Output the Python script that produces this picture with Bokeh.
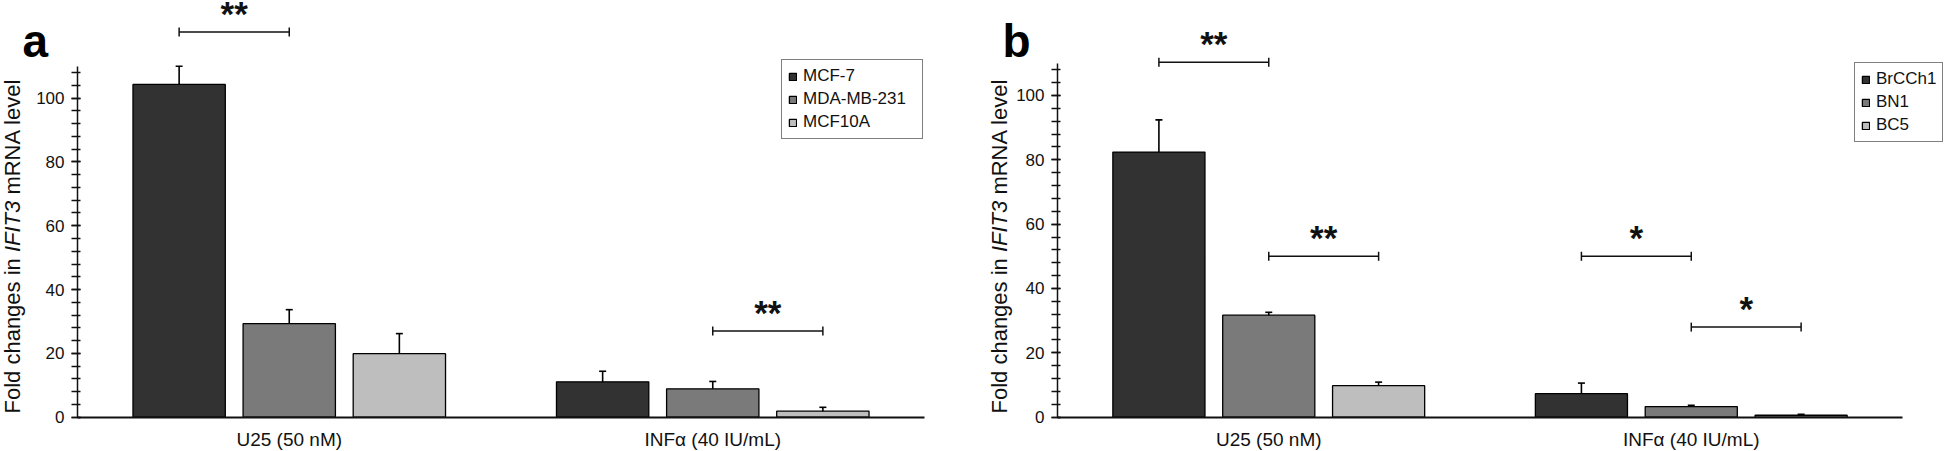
import math
from bokeh.plotting import figure
from bokeh.models import (ColumnDataSource, Whisker, TeeHead, Label, Legend, LegendItem,
                          SingleIntervalTicker, FixedTicker, Range1d)
from bokeh.layouts import row
from bokeh.embed import file_html
from bokeh.resources import INLINE
from bokeh.core.properties import value

# ---------------- data ----------------
categories = ["U25 (50 nM)", "INFα (40 IU/mL)"]

a_series = ["MCF-7", "MDA-MB-231", "MCF10A"]
a_mcf7 = [104.3, 11.1]
a_mcf7_err = [5.7, 3.3]
a_mda = [29.3, 8.9]
a_mda_err = [4.4, 2.3]
a_mcf10a = [19.9, 1.9]
a_mcf10a_err = [6.3, 1.2]

b_series = ["BrCCh1", "BN1", "BC5"]
b_brcch1 = [82.4, 7.3]
b_brcch1_err = [10.0, 3.3]
b_bn1 = [31.7, 3.3]
b_bn1_err = [0.9, 0.4]
b_bc5 = [9.8, 0.6]
b_bc5_err = [1.1, 0.3]

# significance brackets: (category index, bar i, bar j, height, label)
a_sig = [(0, 0, 1, 120.7, "**"), (1, 1, 2, 27.0, "**")]
b_sig = [(0, 0, 1, 110.3, "**"), (0, 1, 2, 50.0, "**"),
         (1, 0, 1, 50.0, "*"), (1, 1, 2, 28.0, "*")]

# ---------------- style ----------------
colors = ["#323232", "#7a7a7a", "#bebebe"]
offsets = [-0.26, 0.0, 0.26]
bar_w = 0.218
FONT = "Liberation Sans"
H = 451
INK = "#111111"


def gx(ci, k):
    """synthetic x of bar k in category ci"""
    return ci + 0.5 + offsets[k]


def make_panel(series, vals, errs, sigs, letter, width, x_range, y_range, leg_xy, leg_lw,
               title_x, letter_x):
    p = figure(x_range=Range1d(*x_range), y_range=Range1d(*y_range), width=width, height=H,
               min_border_left=0, min_border_right=0, min_border_top=0,
               min_border_bottom=0, output_backend="svg", toolbar_location=None)
    p.outline_line_color = None
    p.xgrid.grid_line_color = None
    p.ygrid.grid_line_color = None
    p.background_fill_color = "white"
    p.border_fill_color = "white"

    ncat = len(categories)
    items = []
    for k, name in enumerate(series):
        src = ColumnDataSource(dict(x=[gx(c, k) for c in range(ncat)], val=vals[k],
                                    upper=[v + e for v, e in zip(vals[k], errs[k])],
                                    lower=[v - e for v, e in zip(vals[k], errs[k])]))
        r = p.vbar(x="x", top="val", width=bar_w, source=src, fill_color=colors[k],
                   line_color="black", line_width=1.3)
        items.append(LegendItem(label=name, renderers=[r]))
        p.add_layout(Whisker(source=src, base="x", upper="upper", lower="lower",
                             line_width=1.6, line_color="black",
                             upper_head=TeeHead(size=7, line_width=1.6, line_color="black"),
                             lower_head=TeeHead(size=7, line_width=1.6, line_color="black")))

    for ci, i, j, h, lab in sigs:
        s = ColumnDataSource(dict(x0=[gx(ci, i)], x1=[gx(ci, j)],
                                  xm=[(gx(ci, i) + gx(ci, j)) / 2], y=[h], lab=[lab]))
        p.add_layout(Whisker(source=s, dimension="width", base="y", lower="x0", upper="x1",
                             line_width=1.5, line_color=INK,
                             upper_head=TeeHead(size=9, line_width=1.5, line_color=INK),
                             lower_head=TeeHead(size=9, line_width=1.5, line_color=INK)))
        p.text(x="xm", y="y", text="lab", source=s, text_align="center",
               text_baseline="alphabetic", y_offset=-19, text_font=value(FONT),
               text_font_size="35px", text_font_style="bold", text_color=INK)

    leg = Legend(items=items, location=leg_xy, glyph_width=9, glyph_height=9,
                 label_text_font=FONT, label_text_font_size="17px",
                 label_text_color=INK, spacing=3, padding=6, label_standoff=6,
                 label_height=18, label_width=leg_lw, margin=0, border_line_color="black",
                 border_line_width=1.3, background_fill_alpha=1.0)
    p.add_layout(leg)

    # y axis, drawn at x = 0 inside the frame
    ya = p.yaxis[0]
    ya.fixed_location = 0
    ya.ticker = SingleIntervalTicker(interval=20, num_minor_ticks=5)
    ya.bounds = (0, 110)
    ya.axis_line_width = 1.5
    ya.axis_line_color = INK
    ya.major_tick_in = 3
    ya.major_tick_out = 6
    ya.minor_tick_in = 3
    ya.minor_tick_out = 6
    ya.major_tick_line_width = 1.3
    ya.minor_tick_line_width = 1.3
    ya.major_tick_line_color = INK
    ya.minor_tick_line_color = INK
    ya.major_label_standoff = 7
    ya.major_label_text_font = FONT
    ya.major_label_text_font_size = "17px"
    ya.major_label_text_color = INK

    # x axis, drawn at y = 0 inside the frame
    xa = p.xaxis[0]
    xa.fixed_location = 0
    xa.ticker = FixedTicker(ticks=[c + 0.5 for c in range(ncat)])
    xa.major_label_overrides = {c + 0.5: categories[c] for c in range(ncat)}
    xa.bounds = (0, ncat)
    xa.axis_line_width = 1.8
    xa.axis_line_color = INK
    xa.major_tick_line_color = None
    xa.minor_tick_line_color = None
    xa.major_tick_out = 0
    xa.major_tick_in = 0
    xa.major_label_standoff = 12
    xa.major_label_text_font = FONT
    xa.major_label_text_font_size = "19px"
    xa.major_label_text_color = INK

    # y-axis title with italic gene name (three rotated pieces)
    fs = 22
    em = {"Fold changes in ": 7.337, "IFIT3": 2.334, " ": 0.278}
    pieces = [("Fold changes in", "normal", 0.0),
              ("IFIT3", "italic", em["Fold changes in "] * fs),
              ("mRNA level", "normal", (em["Fold changes in "] + em["IFIT3"] + em[" "]) * fs)]
    for txt, style, dy in pieces:
        p.add_layout(Label(x=title_x, y=38 + dy, x_units="screen", y_units="screen", text=txt,
                           angle=math.pi / 2, text_align="left", text_baseline="middle",
                           text_font=FONT, text_font_size=f"{fs}px", text_font_style=style,
                           text_color=INK))

    # panel letter
    p.add_layout(Label(x=letter_x, y=411, x_units="screen", y_units="screen", text=letter,
                       text_align="left", text_baseline="alphabetic", text_font=FONT,
                       text_font_size="46px", text_font_style="bold", text_color="black"))
    return p


pa = make_panel(a_series, [a_mcf7, a_mda, a_mcf10a], [a_mcf7_err, a_mda_err, a_mcf10a_err],
                a_sig, "a", 975, (-0.1818, 2.1204), (-10.75, 130.6), (781, 312), 113, 12, 22)
pb = make_panel(b_series, [b_brcch1, b_bn1, b_bc5], [b_brcch1_err, b_bn1_err, b_bc5_err],
                b_sig, "b", 971, (-0.1941, 2.1041), (-10.66, 129.5), (879, 309), 60, 24, 27)

layout = row(pa, pb)
open("out.html", "w").write(file_html(layout, INLINE))
